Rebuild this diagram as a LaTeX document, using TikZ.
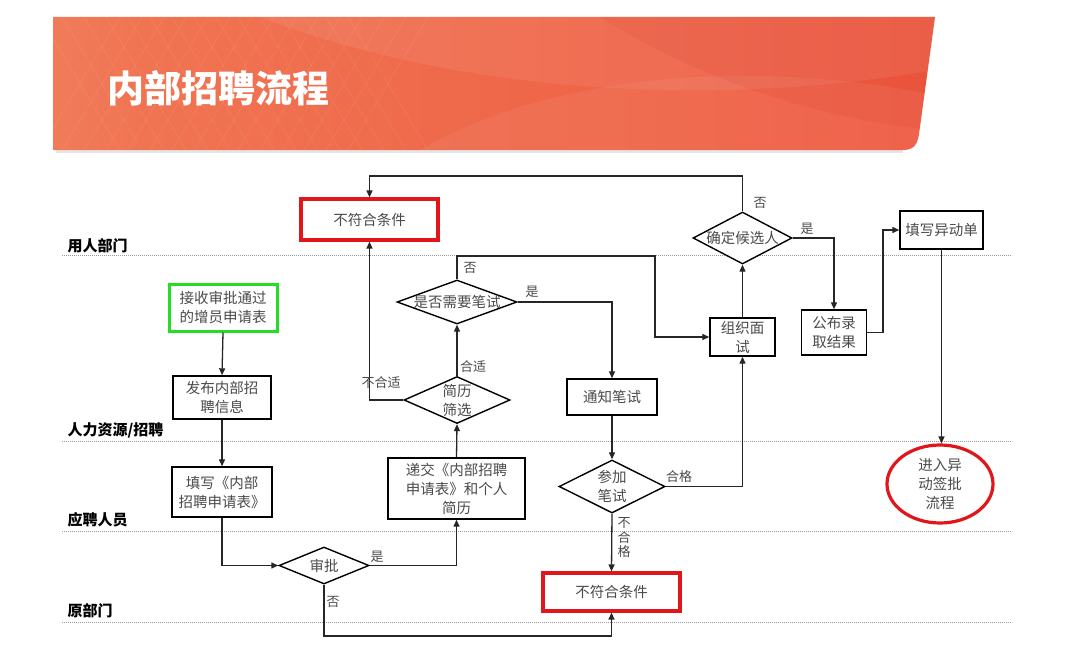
\documentclass[tikz,border=0pt]{standalone}
\usepackage{fontspec}
\setmainfont{Noto Sans CJK SC}
\usetikzlibrary{shapes.geometric,arrows.meta,calc}

\definecolor{boxtext}{HTML}{4A4A4A}
\definecolor{rejred}{HTML}{E0161B}
\definecolor{okgreen}{HTML}{25DD25}
\definecolor{bannerA}{HTML}{FBE3DA}
\definecolor{bannerB}{HTML}{F29A7C}
\definecolor{bannerC}{HTML}{F07452}
\definecolor{bannerD}{HTML}{EC4A36}

\pgfdeclarehorizontalshading{bannershade}{100bp}{%
  color(0bp)=(bannerA); color(4bp)=(bannerB); color(30bp)=(bannerC); color(100bp)=(bannerD)}

\newcommand\boxfont{\fontsize{14.5}{19}\selectfont}
\newcommand\labfont{\fontsize{13}{15}\selectfont}

\begin{document}
\begin{tikzpicture}[x=1pt,y=-1pt,
  proc/.style={draw=black, line width=1.4pt, fill=white, inner sep=0pt,
    align=center, font=\boxfont, text=boxtext},
  redbox/.style={proc, draw=rejred, line width=3.2pt},
  greenbox/.style={proc, draw=okgreen, line width=3pt},
  decision/.style={diamond, draw=black, line width=1.4pt, fill=white, inner sep=0pt},
  inlab/.style={font=\boxfont, text=boxtext, align=center},
  conn/.style={line width=1.3pt, draw=black!85, -{Triangle[length=7pt,width=6pt]}},
  lab/.style={font=\labfont, text=boxtext, align=center},
  lane/.style={font=\fontsize{15}{18}\selectfont\bfseries, text=black, anchor=west},
  laneline/.style={draw=gray!80, line width=0.8pt, dash pattern=on 0.9pt off 1.1pt}]

% canvas
\useasboundingbox (0,0) rectangle (1065,661);
\fill[white] (0,0) rectangle (1065,661);

% ---- title banner ----
\def\bannerpath{(53,17) -- (935,17) -- (919,134) .. controls (917,147) and (912,150) .. (902,150) -- (53,150) -- cycle}
\fill[gray!20] (56,150) -- (903,150) -- (903,153) -- (56,153) -- cycle;
\shade[shading=bannershade] \bannerpath;
\begin{scope}
  \clip \bannerpath;
  % soft sweeping bands
  \fill[white, opacity=0.07] (260,17) .. controls (450,90) and (700,110) .. (935,70) -- (935,17) -- cycle;
  \fill[white, opacity=0.06] (420,150) .. controls (560,70) and (760,60) .. (935,95) -- (935,150) -- cycle;
  \fill[black!30!red, opacity=0.06] (600,17) .. controls (700,80) and (820,120) .. (935,130) -- (935,17) -- cycle;
  % faint lattice on the light left side
  \foreach \i in {0,...,14} {
    \draw[white, opacity=0.07, line width=0.8pt] (40+\i*22,150) -- (120+\i*22,17);
    \draw[white, opacity=0.07, line width=0.8pt] (40+\i*22,17) -- (120+\i*22,150);
  }
\end{scope}
\node[font=\fontsize{37}{40}\selectfont\bfseries, text=white, anchor=west, inner sep=0pt]
  (title) at (107,88) {内部招聘流程};

% ---- swimlanes ----
\draw[laneline] (62,255.5) -- (1012,255.5);
\draw[laneline] (62,441) -- (1012,441);
\draw[laneline] (62,531) -- (1012,531);
\draw[laneline] (62,622) -- (1012,622);
\node[lane] (laneA) at (64,246) {用人部门};
\node[lane] (laneB) at (64,430) {人力资源/招聘};
\node[lane] (laneC) at (64,520) {应聘人员};
\node[lane] (laneD) at (64,611) {原部门};

% ---- process steps ----
\node[greenbox, minimum width=108pt, minimum height=47pt] (recv) at (223,307.5) {接收审批通过\\的增员申请表};
\node[proc, minimum width=98pt, minimum height=43pt] (pub) at (222,397.5) {发布内部招\\聘信息};
\node[proc, minimum width=100pt, minimum height=50pt] (fill) at (222,492) {填写《内部\\招聘申请表》};
\node[decision, minimum width=90pt, minimum height=37pt, label={[inlab]center:审批}] (approve) at (324,565.5) {};
\node[proc, minimum width=137pt, minimum height=61pt] (submit) at (456.5,488.5) {递交《内部招聘\\申请表》和个人\\简历};
\node[decision, minimum width=106pt, minimum height=47pt, label={[inlab]center:简历\\筛选}] (screen) at (457,400) {};
\node[decision, minimum width=120pt, minimum height=44pt, label={[inlab]center:是否需要笔试}] (needtest) at (457,302) {};
\node[redbox, minimum width=137pt, minimum height=41pt] (rejtop) at (369.5,219.5) {不符合条件};
\node[proc, minimum width=90pt, minimum height=36pt] (notify) at (612,397) {通知笔试};
\node[decision, minimum width=106pt, minimum height=53pt, label={[inlab]center:参加\\笔试}] (take) at (612,486.5) {};
\node[redbox, minimum width=137pt, minimum height=38pt] (rejbot) at (611.5,592) {不符合条件};
\node[proc, minimum width=65pt, minimum height=38pt] (interview) at (742.5,337) {组织面\\试};
\node[decision, minimum width=99pt, minimum height=52pt, label={[inlab]center:确定候选人}] (decide) at (742.5,238) {};
\node[proc, minimum width=65pt, minimum height=45pt] (announce) at (834,332.5) {公布录\\取结果};
\node[proc, minimum width=83pt, minimum height=38pt] (form) at (941.5,230) {填写异动单};
\node[ellipse, draw=rejred, line width=3.2pt, fill=white, inner sep=0pt, align=center,
  font=\boxfont, text=boxtext, minimum width=106pt, minimum height=78pt] (enter) at (940,484) {进入异\\动签批\\流程};

% ---- helper turning points ----
\coordinate (yb) at (0,636);
\coordinate (yt) at (0,176);
\coordinate (nj) at (655,256);
\coordinate (aj) at (883,0);

% ---- connectors ----
\draw[conn] (recv.south) -- (pub.north);
\draw[conn] (pub.south) -- (fill.north);
\draw[conn] (fill.south) |- (approve.west);
\draw[conn] (approve.east) -| (submit.south);
\draw[conn] (approve.south) -- (approve.south |- yb) -| (rejbot.south);
\draw[conn] (submit.north) -- (screen.south);
\draw[conn] (screen.north) -- (needtest.south);
\draw[conn] (screen.west) -| (rejtop.south);
\draw[conn] (needtest.north) |- (nj) |- (interview.west);
\draw[conn] (needtest.east) -| (notify.north);
\draw[conn] (notify.south) -- (take.north);
\draw[conn] (take.east) -| (interview.south);
\draw[conn] (take.south) -- (rejbot.north);
\draw[conn] (interview.north) -- (decide.south);
\draw[conn] (decide.north) -- (decide.north |- yt) -| (rejtop.north);
\draw[conn] (decide.east) -| (announce.north);
\draw[conn] (announce.east) -| (aj |- form.west) -- (form.west);
\draw[conn] (form.south) -- (form.south |- enter.north);

% ---- connector labels ----
\node[lab] (lApproveYes) at (377,557) {是};
\node[lab] (lApproveNo) at (333,602) {否};
\node[lab] (lScreenOk) at (473,367) {合适};
\node[lab] (lScreenBad) at (381,383) {不合适};
\node[lab] (lNeedNo) at (470,268) {否};
\node[lab] (lNeedYes) at (532,292) {是};
\node[lab] (lPass) at (679,477) {合格};
\node[lab, font=\fontsize{13}{14.5}\selectfont] (lFail) at (624,538) {不\\合\\格};
\node[lab] (lDecideNo) at (760,203) {否};
\node[lab] (lDecideYes) at (807,229) {是};

\end{tikzpicture}
\end{document}
